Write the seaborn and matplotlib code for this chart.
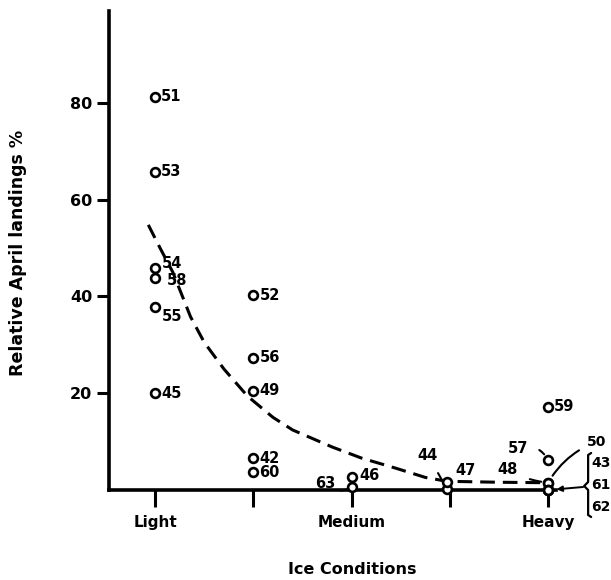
import matplotlib
matplotlib.use("Agg")
import matplotlib.pyplot as plt
import matplotlib.transforms as mtransforms
from matplotlib.lines import Line2D
import seaborn as sns
import pandas as pd

# ---- data ----
years = ["51", "53", "54", "58", "55", "45",
         "52", "56", "49", "42", "60",
         "63", "46",
         "44", "47",
         "59", "57", "48", "50", "43", "61", "62"]
ice_index = [0, 0, 0, 0, 0, 0,
             1, 1, 1, 1, 1,
             2, 2,
             2.97, 2.97,
             4.0, 4.0, 4.0, 4.0, 4.0, 4.0, 4.0]
landings = [81.3, 65.8, 45.9, 43.9, 37.9, 20.0,
            40.3, 27.3, 20.5, 6.6, 3.7,
            0.6, 2.6,
            0.2, 1.7,
            17.2, 6.2, 1.5, 1.5, 0.0, 0.0, 0.0]

curve_x = [-0.07, 0.05, 0.18, 0.36, 0.5, 0.7, 0.94, 1.2, 1.4, 1.8, 2.1,
           2.45, 2.75, 2.97, 3.5, 4.0]
curve_y = [54.8, 50.0, 45.0, 35.8, 30.5, 25.0, 19.4, 15.0, 12.4, 8.9, 6.6,
           4.5, 2.6, 1.8, 1.6, 1.5]

tick_pos = [0, 1, 2, 3, 4]
tick_labels = ["Light", "", "Medium", "", "Heavy"]
y_ticks = [20, 40, 60, 80]

df = pd.DataFrame({"year": years, "ice": ice_index, "landings": landings})
curve = pd.DataFrame({"ice": curve_x, "landings": curve_y})

# ---- style ----
sns.set_style("white")
plt.rcParams["font.family"] = ["DejaVu Sans"]
plt.rcParams["font.weight"] = "bold"
for k in ["text.color", "axes.labelcolor", "xtick.color", "ytick.color",
          "axes.edgecolor"]:
    plt.rcParams[k] = "black"
FS = 10.5

fig = plt.figure(figsize=(6.11, 5.80), dpi=100)
ax = fig.add_axes([109 / 611, 90 / 580, 502 / 611, 479 / 580])
ax.set_xlim(-0.47, 4.64)
ax.set_ylim(0, 99)

sns.lineplot(data=curve, x="ice", y="landings", ax=ax, color="black",
             linewidth=2.2, sort=False)
ax.lines[-1].set_dashes([4.8, 2.6])

sns.scatterplot(data=df, x="ice", y="landings", ax=ax, marker="o", s=40,
                linewidth=1.9, zorder=5)
coll = ax.collections[-1]
coll.set_facecolor("white")
coll.set_edgecolor("black")
coll.set_clip_on(False)

# ---- point labels ----
offsets = {
    "54": (7, 4, "left"), "58": (12, -3, "left"), "55": (7, -10, "left"),
    "63": (-16, 4, "right"), "46": (8, 2, "left"),
    "44": (-19, 34, "center"), "47": (8, 11, "left"),
    "57": (-30, 12, "center"), "48": (-41, 13, "center"),
    "50": (39, 41, "left"), "43": (43, 27, "left"), "61": (43, 5, "left"),
    "62": (43, -17, "left"),
}
small = {"50", "43", "61", "62"}
connectors = {
    "63": dict(arrowstyle="-", lw=1.5, connectionstyle="arc3,rad=0.4", shrinkA=1, shrinkB=4),
    "44": dict(arrowstyle="-", lw=1.5, shrinkA=6, shrinkB=2),
    "57": dict(arrowstyle="-", lw=1.5, connectionstyle="arc3,rad=-0.4", shrinkA=6, shrinkB=5),
    "48": dict(arrowstyle="-", lw=1.5, connectionstyle="arc3,rad=0.1", shrinkA=7, shrinkB=5),
    "50": dict(arrowstyle="-", lw=1.5, connectionstyle="angle3,angleA=20,angleB=60", shrinkA=4, shrinkB=6),
}
for yr, xv, yv in zip(years, ice_index, landings):
    dx, dy, ha = offsets.get(yr, (6, 0, "left"))
    kw = {}
    if yr in connectors:
        kw["arrowprops"] = dict(color="black", **connectors[yr])
    ax.annotate(yr, (xv, yv), xytext=(dx, dy), textcoords="offset pixels",
                ha=ha, va="center", fontsize=10 if yr in small else FS,
                fontweight="bold", annotation_clip=False, **kw)

# bracket for 43 / 61 / 62 pointing to the Heavy zero point
hx, hy = ice_index[years.index("61")], landings[years.index("61")]
ax.annotate("", (hx, hy), xytext=(35, 3), textcoords="offset pixels",
            annotation_clip=False,
            arrowprops=dict(arrowstyle="-|>", color="black", lw=1.4,
                            mutation_scale=8, shrinkA=0, shrinkB=6))
br = [(43, 37), (40, 35), (40, 8), (36, 4), (40, 0), (40, -25), (43, -27)]
pix = mtransforms.IdentityTransform() + mtransforms.ScaledTranslation(hx, hy, ax.transData)
ax.add_line(Line2D([p[0] for p in br], [p[1] for p in br], transform=pix,
                   color="black", lw=1.6, clip_on=False))

# ---- axes ----
ax.set_xticks(tick_pos)
ax.set_xticklabels(tick_labels, fontsize=11, fontweight="bold")
ax.set_yticks(y_ticks)
ax.set_yticklabels([str(v) for v in y_ticks], fontsize=11.5, fontweight="bold")
ax.tick_params(axis="x", direction="out", length=12, width=2.2, pad=6,
               bottom=True, color="black")
ax.tick_params(axis="y", direction="out", length=9, width=2.2, pad=3,
               left=True, color="black")
for s in ["top", "right"]:
    ax.spines[s].set_visible(False)
for s in ["left", "bottom"]:
    ax.spines[s].set_linewidth(2.6)
    ax.spines[s].set_color("black")
ax.spines["bottom"].set_bounds(-0.47, 4.08)

ax.set_xlabel("Ice Conditions", fontsize=11.5, fontweight="bold")
ax.set_ylabel("Relative April landings %", fontsize=12.5, fontweight="bold")
ax.xaxis.set_label_coords(0.484, -0.167)
ax.xaxis.label.set_va("center")
ax.yaxis.set_label_coords(-0.181, 0.495)
ax.yaxis.label.set_va("center")

fig.savefig("out.png", dpi=100)
